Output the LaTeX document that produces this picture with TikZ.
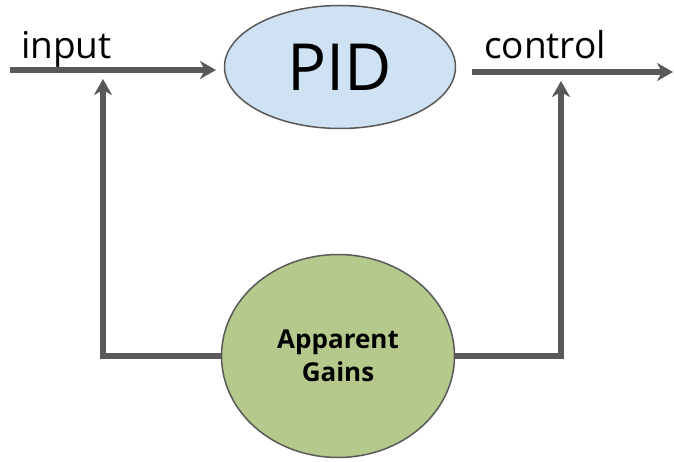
\documentclass[tikz,border=0pt]{standalone}
\usepackage{fontspec}
\setmainfont{Open Sans}
\usetikzlibrary{positioning, arrows.meta, shapes.geometric}

\begin{document}
\begin{tikzpicture}[
        x=1pt, y=-1pt,
        every node/.style={inner sep=0pt},
        block/.style={ellipse, draw=black!65, line width=1.5pt},
        wire/.style={line width=5.5pt, draw=black!65},
        edge/.style={wire, -{Stealth[length=16pt, width=18pt, inset=5pt]}},
        lbl/.style={font=\fontsize{37}{37}\selectfont, anchor=base west}
    ]
        \useasboundingbox (0,0) rectangle (674,462);
        % Controller and gains
        \node[block, fill={rgb,255:red,207;green,226;blue,243}, minimum width=231pt, minimum height=123pt] (pid) at (340,67) {\fontsize{65}{65}\selectfont PID};
        \node[block, fill={rgb,255:red,180;green,201;blue,139}, minimum width=233pt, minimum height=203pt, align=center, font=\fontsize{26}{33}\selectfont\bfseries] (gains) at (338,356) {Apparent\\Gains};
        % Free ends
        \coordinate (inStart) at (10,70);
        \coordinate (inEnd) at (216,70);
        \coordinate (outStart) at (472,72);
        \coordinate (outEnd) at (673,72);
        \coordinate (inTap) at (103,79);
        \coordinate (outTap) at (561,81);
        % Signals
        \draw[edge] (inStart) -- (inEnd);
        \draw[edge] (outStart) -- (outEnd);
        \node[lbl] (inLbl) at (21,59) {input};
        \node[lbl] (outLbl) at (484,59) {control};
        % Feedback from gains
        \draw[edge] (gains.west) -| (inTap);
        \draw[edge] (gains.east) -| (outTap);
    \end{tikzpicture}
\end{document}
